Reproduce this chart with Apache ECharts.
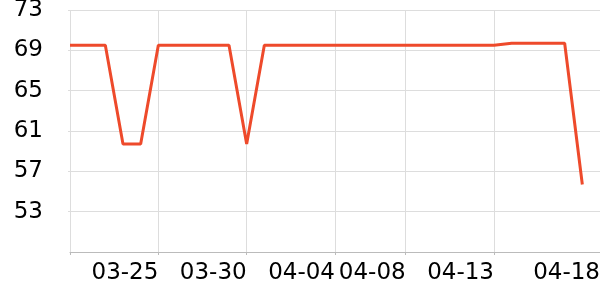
<!DOCTYPE html>
<html><head><meta charset="utf-8">
<script src="https://cdn.jsdelivr.net/npm/echarts@6/dist/echarts.min.js"></script>
<style>html,body{margin:0;padding:0;background:#fff}#c{width:600px;height:300px}</style>
</head><body><div id="c"></div>
<script>
const dates = ['03-20','03-21','03-22','03-23','03-24','03-25','03-26','03-27','03-28','03-29','03-30','03-31',
  '04-01','04-02','04-03','04-04','04-05','04-06','04-07','04-08','04-09','04-10','04-11','04-12','04-13',
  '04-14','04-14','04-15','04-16','04-17','04-18'];
const values = [69.5,69.5,69.5,59.7,59.7,69.5,69.5,69.5,69.5,69.5,59.7,69.5,
  69.5,69.5,69.5,69.5,69.5,69.5,69.5,69.5,69.5,69.5,69.5,69.5,69.5,
  69.7,69.7,69.7,69.7,55.7];
const tickDates = ['03-20','03-25','03-30','04-04','04-08','04-13','04-18'];
const yMin = 49, yMax = 73, yStep = 4;

const chart = echarts.init(document.getElementById('c'), null, {renderer:'canvas'});
const showTick = (i, v) => tickDates.indexOf(v) >= 0;
const showLabel = (i, v) => tickDates.indexOf(v) > 0;
chart.setOption({
  animation: false,
  grid: {left: 70, right: 0, top: 10, bottom: 48, containLabel: false, outerBoundsMode: 'none'},
  xAxis: {
    type: 'category', data: dates, boundaryGap: false,
    axisLine: {lineStyle: {color: '#bbb', width: 1}},
    axisTick: {show: true, interval: showTick, length: 3, lineStyle: {color: '#bbb'}},
    axisLabel: {interval: showLabel, align: 'right', color: '#000', fontSize: 23,
      fontFamily: 'DejaVu Sans', margin: 10},
    splitLine: {show: true, interval: showTick, lineStyle: {color: '#ddd', width: 1}}
  },
  yAxis: {
    type: 'value', min: yMin, max: yMax, interval: yStep,
    axisLine: {show: false},
    axisTick: {show: true, length: 2, lineStyle: {color: '#ddd'}},
    axisLabel: {showMinLabel: false, color: '#000', fontSize: 23, fontFamily: 'DejaVu Sans', margin: 27},
    splitLine: {show: true, lineStyle: {color: '#ddd', width: 1}}
  },
  series: [{
    type: 'line', data: values, showSymbol: false, symbol: 'none',
    lineStyle: {color: '#ee4a2b', width: 3}, itemStyle: {color: '#ee4a2b'}
  }]
});
</script></body></html>
